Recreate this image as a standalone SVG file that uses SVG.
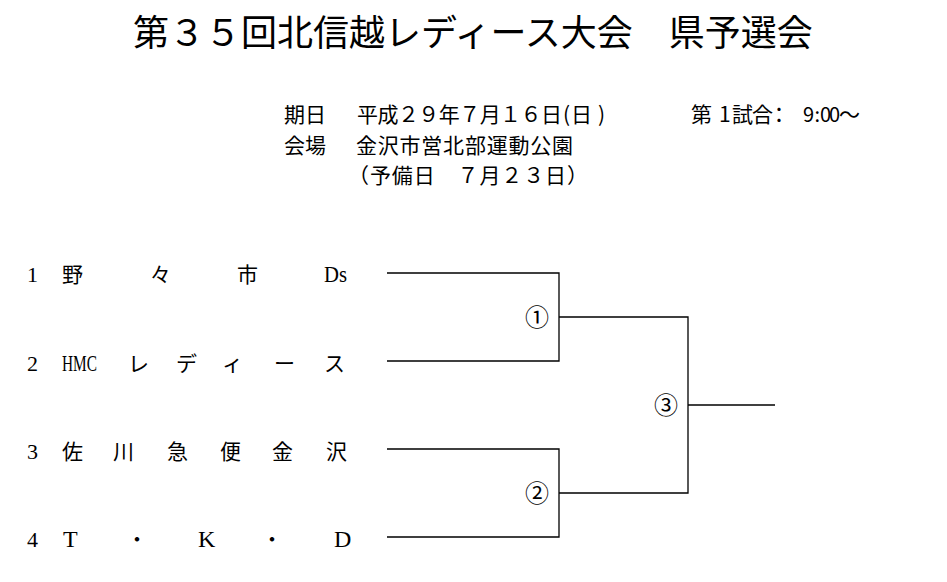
<svg xmlns="http://www.w3.org/2000/svg" width="947" height="582" viewBox="0 0 947 582">
<style>
.title{font-family:"Noto Sans CJK JP","Liberation Serif",serif;font-size:36px;fill:#000}
.hdr{font-family:"Noto Sans CJK JP","Liberation Sans",sans-serif;font-size:21px;fill:#000}
.dig{font-family:"Noto Sans CJK JP","Liberation Sans",sans-serif;font-size:20px;fill:#000}
.team{font-family:"Liberation Serif","Noto Sans CJK JP",serif;font-size:21px;fill:#000}
.lat{font-family:"Liberation Serif",serif;font-size:24px;fill:#000}
.num{font-family:"Liberation Serif",serif;font-size:22px;fill:#000}
.mlab{font-family:"Noto Sans CJK JP","DejaVu Sans",sans-serif;font-size:24px;fill:#000;text-anchor:middle}
.ln{stroke:#000;stroke-width:1.3;fill:none}
</style>
<rect width="947" height="582" fill="#fff"/>
<g id="title">
<text class="title" x="133" y="46">第３５回北信越レディース大会　県予選会</text>
</g>
<g id="info">
<text class="hdr" x="284" y="121.5">期日</text>
<text class="hdr" x="357" y="121.5" textLength="205" lengthAdjust="spacing">平成２９年７月１６日</text>
<text class="hdr" x="563 571 598" y="121.5">(日)</text>
<text class="hdr" x="691 719 732 752 768.5" y="121.5">第1試合：</text>
<text class="dig" x="803 814.5 820 829" y="121.5">9:00</text>
<text class="hdr" x="839" y="121.5">～</text>
<text class="hdr" x="284" y="153">会場</text>
<text class="hdr" x="356" y="153" textLength="217" lengthAdjust="spacing">金沢市営北部運動公園</text>
<text class="hdr" x="348" y="183" textLength="240" lengthAdjust="spacing">（予備日　７月２３日）</text>
</g>
<g id="team1">
<text class="num" x="27" y="282">1</text>
<text class="team" x="62 150 237" y="282">野々市</text>
<text class="lat" x="324" y="282" textLength="23" lengthAdjust="spacingAndGlyphs">Ds</text>
</g>
<g id="team2">
<text class="num" x="27" y="370.5">2</text>
<text class="lat" x="62" y="370.5" textLength="35" lengthAdjust="spacingAndGlyphs">HMC</text>
<text class="team" x="128 176 222 274 324" y="370.5">レディース</text>
</g>
<g id="team3">
<text class="num" x="27" y="458.5">3</text>
<text class="team" x="62 113 167 220 272 326" y="458.5">佐川急便金沢</text>
</g>
<g id="team4">
<text class="num" x="27" y="546.5">4</text>
<text class="lat" x="63" y="546.5">T</text>
<text class="team" x="126.5" y="546.5">・</text>
<text class="lat" x="198" y="546.5">K</text>
<text class="team" x="261.5" y="546.5">・</text>
<text class="lat" x="334" y="546.5">D</text>
</g>
<g id="match1"><text class="mlab" x="537" y="325.5">①</text></g>
<g id="match2"><text class="mlab" x="537" y="501.5">②</text></g>
<g id="match3"><text class="mlab" x="666" y="413.5">③</text></g>
<g id="connectors">
<polyline class="ln" points="387,273 559,273 559,361 387,361"/>
<polyline class="ln" points="387,449 559,449 559,537 387,537"/>
<polyline class="ln" points="559,317 688,317 688,493 559,493"/>
<line class="ln" x1="688" y1="405" x2="775" y2="405"/>
</g>
</svg>
